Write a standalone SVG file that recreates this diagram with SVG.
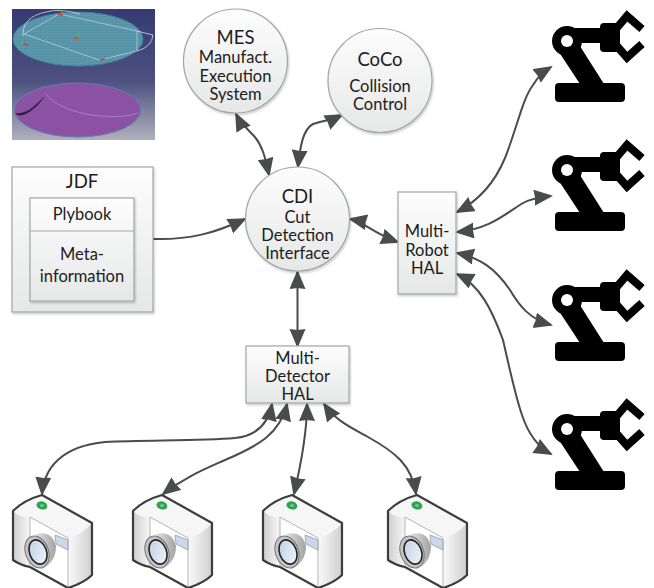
<svg xmlns="http://www.w3.org/2000/svg" width="654" height="588" viewBox="0 0 654 588">
<style>
text{font-family:"Lato","Open Sans","Liberation Sans",sans-serif;fill:#1c1c1c;text-anchor:middle;font-size:16.5px}
.h{font-size:18.5px}
.n{fill:url(#nf);stroke:#a3a6a6;stroke-width:1.2;filter:url(#sh)}
.c{fill:none;stroke:#4a4b4d;stroke-width:2;marker-start:url(#ah);marker-end:url(#ah)}
.c1{marker-start:none}
</style>
<defs>
<linearGradient id="nf" x1="0" y1="0" x2="0" y2="1"><stop offset="0" stop-color="#fdfdfd"/><stop offset="1" stop-color="#e6e7e7"/></linearGradient>
<linearGradient id="imgbg" x1="0" y1="0" x2="0" y2="1"><stop offset="0" stop-color="#353a72"/><stop offset=".55" stop-color="#4c517f"/><stop offset="1" stop-color="#b0b0bc"/></linearGradient>
<linearGradient id="side" x1="0" y1="0" x2="1" y2="0"><stop offset="0" stop-color="#fafafa"/><stop offset="1" stop-color="#cfcfcf"/></linearGradient>
<linearGradient id="side2" x1="0" y1="0" x2="1" y2="0"><stop offset="0" stop-color="#cfcfcf"/><stop offset="1" stop-color="#f6f6f6"/></linearGradient>
<linearGradient id="barrel" x1="0" y1="0" x2="1" y2="0"><stop offset="0" stop-color="#f4f4f4"/><stop offset="1" stop-color="#a2a2a2"/></linearGradient>
<linearGradient id="glass" x1="0" y1="0" x2="1" y2="1"><stop offset="0" stop-color="#bccde4"/><stop offset="1" stop-color="#f4f7fa"/></linearGradient>
<pattern id="hatch" width="2" height="2" patternUnits="userSpaceOnUse"><rect width="2" height="2" fill="#5a9aa9"/><rect width="1" height="1" fill="#4d8a9e"/></pattern>
<filter id="sh" x="-10%" y="-10%" width="120%" height="120%"><feDropShadow dx="1" dy="1.5" stdDeviation="1" flood-color="#000" flood-opacity=".22"/></filter>
<marker id="ah" markerUnits="userSpaceOnUse" markerWidth="22" markerHeight="18" refX="17" refY="8" orient="auto-start-reverse"><path d="M0 0L19 8L0 16L1 8Z" fill="#4a4b4d"/></marker>
<g id="robot">
<rect x="555" y="83" width="70" height="19" rx="4"/>
<path d="M555 46L580 84H604L578 43Z"/>
<circle cx="567" cy="41" r="15"/>
<path d="M567 28H605V43H567Z"/>
<rect x="600" y="23" width="20" height="29" rx="4"/>
<path d="M615 30L627 16L642 29M615 44L627 57.500L642 44" fill="none" stroke="#000" stroke-width="8"/>
<circle cx="567" cy="41" r="6" fill="#fff"/>
</g>
<g id="camera">
<path d="M13 511Q24 500 42 495L92 523V575Q84 583 68 588L30 567Q20 565 13 560Z" fill="#f6f6f6" stroke="none"/>
<path d="M13 511Q22 519 30 517V567Q20 565 13 560Z" fill="url(#side2)"/>
<path d="M68 538Q82 535 92 523V575Q84 583 68 588Z" fill="url(#side)"/>
<path d="M30 517L68 538V588L30 567Z" fill="#fff" stroke="#b5b5b5" stroke-width="1"/>
<path d="M36 534Q52 530 56 546Q56 562 42 569L30 556Z" fill="url(#barrel)"/>
<path d="M55 535L68 540V550L56 544Z" fill="#c9d8ea" stroke="#8f9aa6" stroke-width=".8"/>
<ellipse cx="37" cy="552" rx="11.500" ry="16.500" transform="rotate(-20 37 552)" fill="#c4c4c4" stroke="#777"/>
<ellipse cx="38" cy="552" rx="8.500" ry="12.500" transform="rotate(-20 38 552)" fill="url(#glass)" stroke="#222" stroke-width="1.600"/>
<path d="M13 511Q24 500 42 495L92 523V575Q84 583 68 588L30 567Q20 565 13 560Z" fill="none" stroke="#3c3c3c" stroke-width="2.200" stroke-linejoin="round"/>
<ellipse cx="42" cy="505.500" rx="5.500" ry="4" transform="rotate(15 42 505)" fill="#2da44e"/>
<ellipse cx="42" cy="505.500" rx="2" ry="1.200" fill="#7fcb95"/>
</g>
</defs>
<rect width="654" height="588" fill="#fff"/>

<g id="cad-picture">
<rect x="12" y="9" width="143" height="131" fill="url(#imgbg)"/>
<ellipse cx="78" cy="39" rx="65" ry="27" fill="url(#hatch)" stroke="#3f7f95"/>
<path d="M24 34L59 14L137 31L137 51L99 60Z" fill="none" stroke="#c4d6dc" stroke-width=".7"/>
<path d="M23 36Q22 17 46 12Q60 8 80 14M137 31L153 35Q152 47 137 51" fill="none" stroke="#d4dde2" stroke-width=".8"/>
<path d="M58 14l5 1M23 44l5 1M100 60l5 -1M74 38l5 0" stroke="#d23a3a" stroke-width="1.500"/>
<path d="M78 34v4M23 40v4M62 10v4" stroke="#3fbf5a" stroke-width="1.300"/>
<ellipse cx="77.500" cy="110" rx="63" ry="27" fill="#8b52a3" stroke="#5d7fb5"/>
<path d="M15 113Q25 114 33 107Q40 101 45 96Q38 106 32 110Q24 117 17 115Z" fill="#34204a"/>
<path d="M45 93Q60 112 100 116Q125 118 138 113" fill="none" stroke="#b98fcc" stroke-width=".7"/>
</g>

<g id="connectors">
<path class="c" d="M236 114C240 122 247 129 254 136C262 145 265 156 269 175"/>
<path class="c" d="M342 115C332 120 322 121 313 124C303 129 300 147 298 167"/>
<path class="c c1" d="M153 239C190 240 215 233 245 219"/>
<path class="c" d="M350 219C365 222 372 233 398 242"/>
<path class="c" d="M297.500 272V346"/>
<path class="c" d="M457 212C480 200 495 182 505 158C518 125 522 100 533 85C537 78 543 72 551 67"/>
<path class="c" d="M457 232C490 229 505 214 523 203C532 198 541 197 551 196"/>
<path class="c" d="M457 253C480 258 495 268 510 290C520 307 530 319 551 325"/>
<path class="c" d="M457 274C480 285 492 310 503 340C510 370 515 395 522 415C528 433 538 447 551 454"/>
<path class="c" d="M272 404C268 425 255 436 235 438C200 441 150 440 105 442C62 446 44 468 42 494"/>
<path class="c" d="M287 404C280 434 258 446 225 460C205 469 185 477 163 494"/>
<path class="c" d="M307 404C307 432 302 460 294 494"/>
<path class="c" d="M324 404C335 420 350 427 368 437C395 452 412 465 416 494"/>
</g>

<g id="jdf">
<rect class="n" x="12" y="167" width="141" height="145"/>
<text x="82" y="188" class="h">JDF</text>
<rect class="n" x="30" y="198" width="104" height="103"/>
<path d="M30 231H134" stroke="#a3a6a6" stroke-width="1.200"/>
<text x="82" y="220">Plybook</text>
<text x="82" y="260">Meta-</text>
<text x="82" y="282">information</text>
</g>

<g id="mes">
<circle class="n" cx="235.500" cy="61" r="52"/>
<text x="235.500" y="44" class="h">MES</text>
<text x="235.500" y="63">Manufact.</text>
<text x="235.500" y="82">Execution</text>
<text x="235.500" y="100">System</text>
</g>

<g id="coco">
<circle class="n" cx="380" cy="80.500" r="52"/>
<text x="380" y="66" class="h">CoCo</text>
<text x="380" y="92">Collision</text>
<text x="380" y="110">Control</text>
</g>

<g id="cdi">
<circle class="n" cx="297.500" cy="219" r="52"/>
<text x="297.500" y="203" class="h">CDI</text>
<text x="297.500" y="223">Cut</text>
<text x="297.500" y="241">Detection</text>
<text x="297.500" y="259">Interface</text>
</g>

<g id="multi-robot-hal">
<rect class="n" x="398" y="192" width="58" height="102"/>
<text x="427" y="237">Multi-</text>
<text x="427" y="256">Robot</text>
<text x="427" y="274">HAL</text>
</g>

<g id="multi-detector-hal">
<rect class="n" x="246" y="346" width="103" height="57"/>
<text x="297.500" y="364">Multi-</text>
<text x="297.500" y="382">Detector</text>
<text x="297.500" y="400">HAL</text>
</g>

<g id="robot-1"><use href="#robot"/></g>
<g id="robot-2"><use href="#robot" y="129"/></g>
<g id="robot-3"><use href="#robot" y="259"/></g>
<g id="robot-4"><use href="#robot" y="388"/></g>

<g id="camera-1"><use href="#camera"/></g>
<g id="camera-2"><use href="#camera" x="120"/></g>
<g id="camera-3"><use href="#camera" x="250"/></g>
<g id="camera-4"><use href="#camera" x="375"/></g>
</svg>
